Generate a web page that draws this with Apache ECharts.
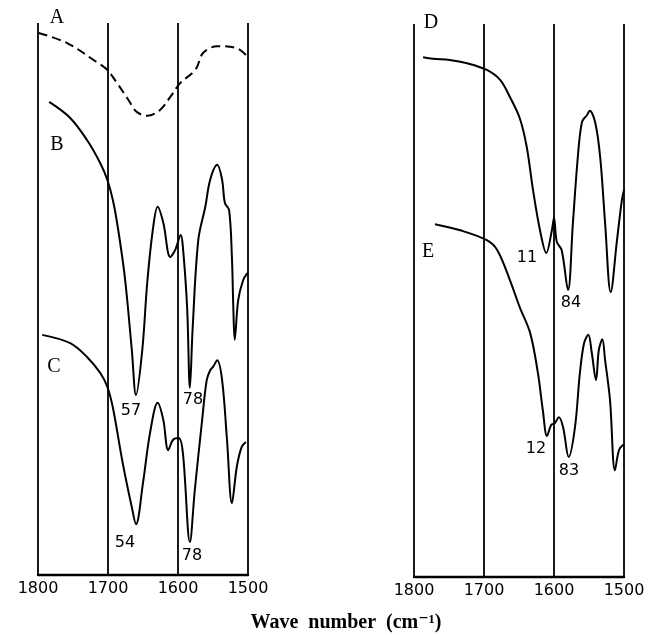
<!DOCTYPE html>
<html>
<head>
<meta charset="utf-8">
<script src="https://cdn.jsdelivr.net/npm/echarts@6/dist/echarts.min.js"></script>
<style>
  html, body { margin: 0; padding: 0; background: #ffffff; }
  #chart { width: 653px; height: 635px; }
</style>
</head>
<body>
<div id="chart"></div>
<script>
// tick labels of both wave number axes
var tickLabels = [1800, 1700, 1600, 1500];

// left panel: spectra A (dashed), B, C  -- wave number / transmittance (arb.)
var waveA = [1799, 1759, 1716, 1701, 1687, 1671, 1659, 1644, 1626, 1611, 1597, 1580, 1573, 1564, 1544, 1526, 1511, 1500];
var transA = [98.2, 96.4, 92.9, 91.5, 89.1, 86.1, 83.9, 83.2, 84.2, 86.6, 89.1, 90.9, 92.0, 94.6, 95.8, 95.7, 95.1, 93.8];

var waveB = [1784, 1754, 1730, 1711, 1701, 1693, 1686, 1676, 1666, 1660, 1651, 1644, 1636, 1629, 1621, 1611, 1604, 1596, 1593, 1587, 1583, 1579, 1571, 1561, 1554, 1544, 1537, 1533, 1527, 1523, 1521, 1519, 1514, 1507, 1501];
var transB = [85.7, 82.8, 78.8, 74.6, 71.6, 67.9, 63.0, 54.0, 40.8, 32.6, 40.8, 52.9, 62.5, 66.7, 63.8, 57.6, 58.9, 61.6, 59.4, 48.6, 33.9, 44.9, 60.7, 66.7, 71.6, 74.3, 71.6, 67.4, 66.1, 57.6, 48.6, 42.6, 49.8, 53.4, 54.7];

var waveC = [1794, 1754, 1730, 1711, 1701, 1693, 1679, 1666, 1660, 1650, 1640, 1629, 1621, 1614, 1607, 1599, 1593, 1583, 1576, 1566, 1559, 1554, 1550, 1544, 1537, 1530, 1523, 1516, 1509, 1503];
var transC = [43.5, 42.0, 39.5, 36.6, 34.1, 30.3, 20.3, 12.3, 9.2, 16.7, 25.7, 31.2, 28.1, 22.6, 24.5, 24.8, 22.1, 6.0, 15.4, 27.5, 35.3, 37.1, 37.7, 38.9, 35.3, 24.5, 13.0, 19.6, 23.2, 24.1];

// right panel: spectra D, E
var waveD = [1787, 1773, 1749, 1724, 1696, 1677, 1663, 1649, 1639, 1630, 1620, 1611, 1603, 1600, 1596, 1589, 1580, 1573, 1566, 1560, 1553, 1549, 1541, 1534, 1527, 1519, 1510, 1503, 1500];
var transD = [94.0, 93.7, 93.5, 92.9, 91.7, 89.9, 86.8, 83.0, 77.8, 70.0, 62.7, 58.6, 62.7, 64.9, 60.6, 59.1, 51.9, 64.0, 75.9, 82.3, 83.5, 84.3, 82.1, 75.9, 64.0, 51.5, 60.9, 68.2, 70.0];

var waveE = [1770, 1734, 1696, 1681, 1663, 1649, 1634, 1623, 1616, 1610, 1604, 1599, 1593, 1587, 1579, 1570, 1563, 1557, 1551, 1546, 1540, 1536, 1531, 1527, 1520, 1513, 1507, 1501];
var transE = [63.8, 62.7, 60.9, 59.1, 53.7, 48.8, 44.1, 36.9, 30.2, 25.5, 27.5, 27.8, 28.9, 27.1, 21.7, 27.1, 36.9, 42.3, 43.8, 40.5, 35.6, 41.0, 43.0, 39.2, 32.0, 19.3, 23.0, 23.9];

// peak annotations
var peakTexts = ["57", "78", "54", "78", "11", "84", "12", "83"];
var curveNames = ["A", "B", "C", "D", "E"];

function zip(xs, ys) {
  var out = [];
  for (var i = 0; i < xs.length; i++) {
    out[out.length] = [xs[i], ys[i]];
  }
  return out;
}

function makeXAxis(idx) {
  return {
    gridIndex: idx,
    type: 'value',
    min: 1500,
    max: 1800,
    interval: 100,
    inverse: true,
    axisLine: { show: true, lineStyle: { color: '#000', width: 2.4 } },
    axisTick: { show: false },
    axisLabel: {
      color: '#000',
      fontFamily: 'DejaVu Sans',
      fontSize: 16,
      margin: 6,
      formatter: function(v) {
        return tickLabels.indexOf(v) >= 0 ? String(v) : '';
      }
    },
    splitLine: { show: true, lineStyle: { color: '#000', width: 1.8 } }
  };
}

function makeYAxis(idx) {
  return {
    gridIndex: idx,
    type: 'value',
    min: 0,
    max: 100,
    show: false,
    splitLine: { show: false }
  };
}

function makeLine(idx, data, dashed) {
  return {
    type: 'line',
    xAxisIndex: idx,
    yAxisIndex: idx,
    data: data,
    smooth: 0.35,
    showSymbol: false,
    symbol: 'none',
    silent: true,
    lineStyle: {
      color: '#000',
      width: 2,
      type: dashed ? [9, 5] : 'solid'
    }
  };
}

function letter(txt, x, y) {
  return {
    type: 'text',
    x: x,
    y: y,
    style: {
      text: txt,
      fill: '#000',
      font: '20px "Liberation Serif", "DejaVu Serif", serif',
      align: 'center',
      verticalAlign: 'middle'
    }
  };
}

function num(txt, x, y) {
  return {
    type: 'text',
    x: x,
    y: y,
    style: {
      text: txt,
      fill: '#000',
      font: '16px "DejaVu Sans", sans-serif',
      align: 'center',
      verticalAlign: 'middle'
    }
  };
}

var chart = echarts.init(document.getElementById('chart'), null, { renderer: 'canvas' });

var option = {
  backgroundColor: '#ffffff',
  animation: false,
  grid: [
    { left: 38, right: 405, top: 23, bottom: 60 },
    { left: 414, right: 29, top: 24, bottom: 58 }
  ],
  xAxis: [makeXAxis(0), makeXAxis(1)],
  yAxis: [makeYAxis(0), makeYAxis(1)],
  series: [
    makeLine(0, zip(waveA, transA), true),
    makeLine(0, zip(waveB, transB), false),
    makeLine(0, zip(waveC, transC), false),
    makeLine(1, zip(waveD, transD), false),
    makeLine(1, zip(waveE, transE), false)
  ],
  graphic: [
    letter(curveNames[0], 57, 18),
    letter(curveNames[1], 57, 145),
    letter(curveNames[2], 54, 367),
    letter(curveNames[3], 431, 23),
    letter(curveNames[4], 428, 252),
    num(peakTexts[0], 131, 411),
    num(peakTexts[1], 193, 400),
    num(peakTexts[2], 125, 543),
    num(peakTexts[3], 192, 556),
    num(peakTexts[4], 527, 258),
    num(peakTexts[5], 571, 303),
    num(peakTexts[6], 536, 449),
    num(peakTexts[7], 569, 471),
    {
      type: 'text',
      x: 346,
      y: 623,
      style: {
        text: 'Wave  number  (cm\u207B\u00B9)',
        fill: '#000',
        font: 'bold 20px "Liberation Serif", "DejaVu Serif", serif',
        align: 'center',
        verticalAlign: 'middle'
      }
    }
  ]
};

chart.setOption(option);
</script>
</body>
</html>
